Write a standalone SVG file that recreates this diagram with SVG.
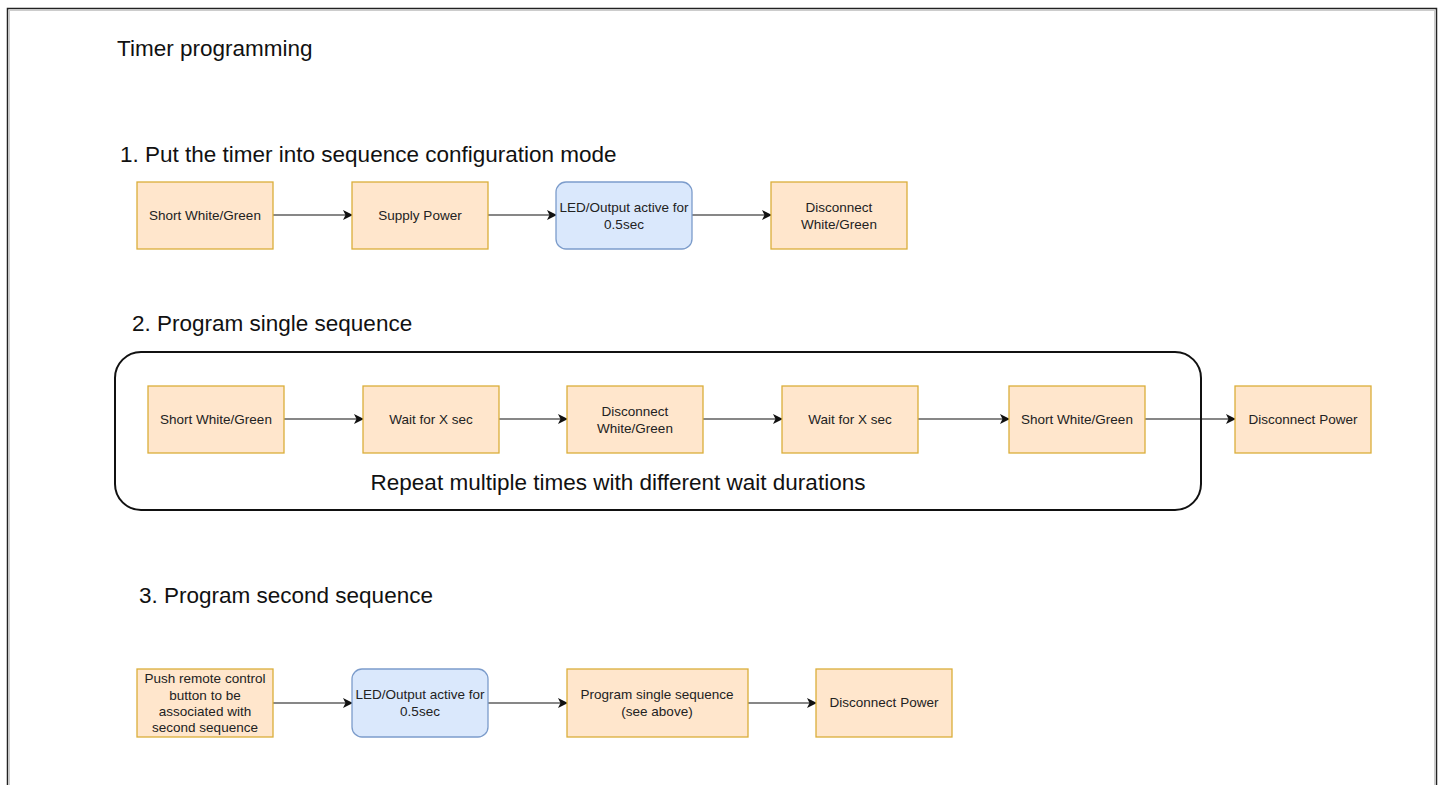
<svg xmlns="http://www.w3.org/2000/svg" width="1442" height="785" viewBox="0 0 1442 785">
<style>
.bx{fill:#ffe6cc;stroke:#dbae3a;stroke-width:1.3}
.bl{fill:#dae8fc;stroke:#7c9ccb;stroke-width:1.3}
.t{font-family:"Liberation Sans",Arial,sans-serif;font-size:13.5px;fill:#222;text-anchor:middle}
.h{font-family:"Liberation Sans",Arial,sans-serif;font-size:22.5px;fill:#111}
.c{stroke:#111;stroke-width:1.2;fill:none;marker-end:url(#ar)}
</style>
<defs>
<marker id="ar" viewBox="0 0 10 10" refX="9" refY="5" markerWidth="10" markerHeight="10" markerUnits="userSpaceOnUse" orient="auto">
<path d="M0,0 L10,5 L0,10 L2.5,5 Z" fill="#111"/>
</marker>
</defs>
<rect x="0" y="0" width="1442" height="785" fill="#fff"/>
<rect x="7.5" y="8.5" width="1429" height="800" fill="none" stroke="#222" stroke-width="1.5"/>
<rect x="9.5" y="10.5" width="1425" height="800" fill="none" stroke="#ccc" stroke-width="1"/>

<text id="title" class="h" x="117" y="56">Timer programming</text>
<text id="sec1" class="h" x="120" y="162">1. Put the timer into sequence configuration mode</text>
<text id="sec2" class="h" x="132" y="331">2. Program single sequence</text>
<text id="sec3" class="h" x="139" y="603">3. Program second sequence</text>

<g id="repeat">
<rect x="115" y="352" width="1086" height="158" rx="26" ry="26" fill="none" stroke="#111" stroke-width="2"/>
<text class="h" x="618" y="490" text-anchor="middle">Repeat multiple times with different wait durations</text>
</g>

<g id="connectors">
<path class="c" d="M273,215 H352"/>
<path class="c" d="M488,215 H556"/>
<path class="c" d="M692,215 H771"/>
<path class="c" d="M284,419 H363"/>
<path class="c" d="M499,419 H567"/>
<path class="c" d="M703,419 H782"/>
<path class="c" d="M918,419 H1009"/>
<path class="c" d="M1145,419 H1235"/>
<path class="c" d="M273,703 H352"/>
<path class="c" d="M488,703 H567"/>
<path class="c" d="M748,703 H816"/>
</g>

<g id="n1a"><rect class="bx" x="137" y="182" width="136" height="67"/><text class="t" x="205" y="220">Short White/Green</text></g>
<g id="n1b"><rect class="bx" x="352" y="182" width="136" height="67"/><text class="t" x="420" y="220">Supply Power</text></g>
<g id="n1c"><rect class="bl" x="556" y="182" width="136" height="67" rx="10" ry="10"/><text class="t" x="624" y="212">LED/Output active for</text><text class="t" x="624" y="229">0.5sec</text></g>
<g id="n1d"><rect class="bx" x="771" y="182" width="136" height="67"/><text class="t" x="839" y="212">Disconnect</text><text class="t" x="839" y="229">White/Green</text></g>

<g id="n2a"><rect class="bx" x="148" y="386" width="136" height="67"/><text class="t" x="216" y="424">Short White/Green</text></g>
<g id="n2b"><rect class="bx" x="363" y="386" width="136" height="67"/><text class="t" x="431" y="424">Wait for X sec</text></g>
<g id="n2c"><rect class="bx" x="567" y="386" width="136" height="67"/><text class="t" x="635" y="416">Disconnect</text><text class="t" x="635" y="433">White/Green</text></g>
<g id="n2d"><rect class="bx" x="782" y="386" width="136" height="67"/><text class="t" x="850" y="424">Wait for X sec</text></g>
<g id="n2e"><rect class="bx" x="1009" y="386" width="136" height="67"/><text class="t" x="1077" y="424">Short White/Green</text></g>
<g id="n2f"><rect class="bx" x="1235" y="386" width="136" height="67"/><text class="t" x="1303" y="424">Disconnect Power</text></g>

<g id="n3a"><rect class="bx" x="137" y="669" width="136" height="68"/><text class="t" x="205" y="683">Push remote control</text><text class="t" x="205" y="699.5">button to be</text><text class="t" x="205" y="716">associated with</text><text class="t" x="205" y="732">second sequence</text></g>
<g id="n3b"><rect class="bl" x="352" y="669" width="136" height="68" rx="10" ry="10"/><text class="t" x="420" y="699">LED/Output active for</text><text class="t" x="420" y="716">0.5sec</text></g>
<g id="n3c"><rect class="bx" x="567" y="669" width="181" height="68"/><text class="t" x="657" y="699">Program single sequence</text><text class="t" x="657" y="716">(see above)</text></g>
<g id="n3d"><rect class="bx" x="816" y="669" width="136" height="68"/><text class="t" x="884" y="707">Disconnect Power</text></g>
</svg>
